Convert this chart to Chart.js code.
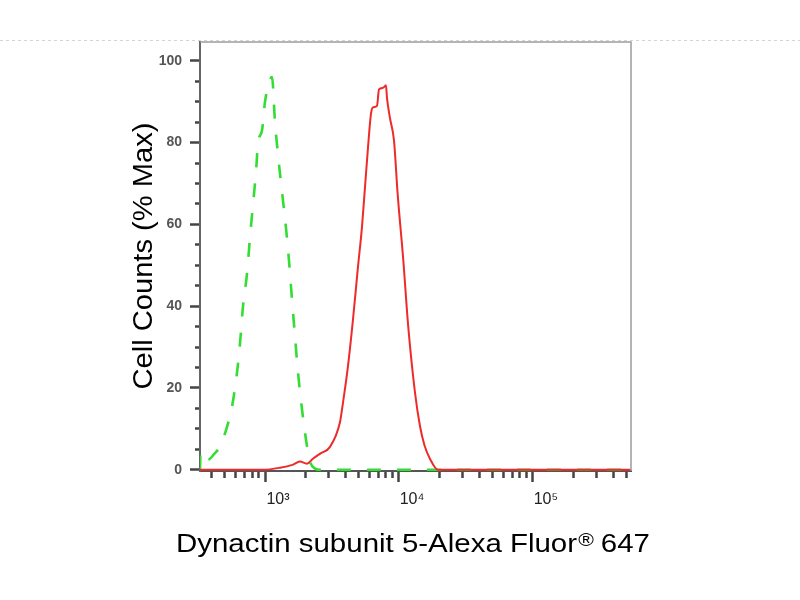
<!DOCTYPE html>
<html>
<head>
<meta charset="utf-8">
<title>Dynactin subunit 5 flow cytometry</title>
<script src="https://cdn.jsdelivr.net/npm/chart.js@4.4.1/dist/chart.umd.min.js"></script>
<style>
    html, body { margin: 0; padding: 0; background: #fff; }
    #wrap { width: 800px; height: 600px; }
</style>
</head>
<body>
<div id="wrap"><canvas id="histogram" width="800" height="600"></canvas></div>
<script>
// Stained sample (red, solid)
const stainedX = [327, 966, 1294, 1600, 1824, 2057, 2279, 2600, 3055, 3631, 3758, 4161, 4536, 4943, 5296, 5573, 5873,
    6180, 6397, 6854, 7096, 7603, 8000, 8135, 8570, 9183, 9770, 10770, 11730, 13160, 14350, 15500, 17030, 19550, 25000, 100000, 540000];
const stainedY = [0, 0, 0.5, 1.2, 2, 1.5, 2.7, 4, 5.6, 11.7, 14.8, 25.3, 36.7, 49.6, 59.4, 69, 78.8,
    87, 88.6, 89, 93, 93.4, 94, 91, 86, 80.5, 67.6, 51.3, 35, 19, 10.7, 6, 2.7, 0, 0, 0, 0];

// Isotype control (green, dashed)
const isotypeX = [327, 330, 340, 376, 416, 461, 515, 568, 618, 651, 685, 734, 773, 814, 857, 887, 950, 1000,
    1128, 1187, 1250, 1339, 1435, 1511, 1590, 1674, 1763, 1888, 2057, 2166, 2360, 2600, 5000, 20000, 100000, 540000];
const isotypeY = [0, 4.5, 4, 2.5, 3.8, 5.8, 10, 15.6, 23.8, 31, 40, 48, 57, 65, 73, 80, 83, 90,
    96, 85, 77, 68, 59, 51, 41.6, 32.6, 23.8, 14.8, 5.8, 2, 0.3, 0, 0, 0, 0, 0];

// Axis ticks
const xTickValues = [400, 500, 600, 700, 800, 900, 1000, 2000, 3000, 4000, 5000, 6000, 7000, 8000, 9000, 10000,
    20000, 30000, 40000, 50000, 60000, 70000, 80000, 90000, 100000, 200000, 300000, 400000, 500000];
const xMajorValues = [1000, 10000, 100000];
const xMajorLabels = ['10³', '10⁴', '10⁵'];
const yTickValues = [0, 5, 10, 15, 20, 25, 30, 35, 40, 45, 50, 55, 60, 65, 70, 75, 80, 85, 90, 95, 100];
const yLabelValues = [0, 20, 40, 60, 80, 100];
const yTickLabels = ['0', '20', '40', '60', '80', '100'];

const FONT = '"Liberation Sans", Arial, Helvetica, sans-serif';

function toPoints(xs, ys) {
    return xs.map((x, i) => ({ x: x, y: ys[i] }));
}

// dotted rule at the top, frame, and the two axis titles
const decorPlugin = {
    id: 'decor',
    beforeDraw(chart) {
        const ctx = chart.ctx;
        ctx.save();
        ctx.strokeStyle = '#d4d4d4';
        ctx.lineWidth = 1;
        ctx.setLineDash([3, 3]);
        ctx.beginPath();
        ctx.moveTo(0, 40.5);
        ctx.lineTo(800, 40.5);
        ctx.stroke();
        ctx.restore();
    },
    afterDraw(chart) {
        const ctx = chart.ctx;
        const area = chart.chartArea;

        ctx.save();
        ctx.strokeStyle = '#9c9c9c';
        ctx.lineWidth = 1.5;
        ctx.beginPath();
        ctx.moveTo(area.left, area.top);
        ctx.lineTo(area.right, area.top);
        ctx.lineTo(area.right, area.bottom);
        ctx.stroke();
        ctx.restore();

        // y title
        ctx.save();
        ctx.fillStyle = '#000';
        ctx.font = '27px ' + FONT;
        const yText = 'Cell Counts (% Max)';
        const yw = ctx.measureText(yText).width;
        ctx.translate(152, 256);
        ctx.rotate(-Math.PI / 2);
        ctx.scale(267 / yw, 1);
        ctx.textAlign = 'center';
        ctx.textBaseline = 'alphabetic';
        ctx.fillText(yText, 0, 0);
        ctx.restore();

        // x title with superscript ®
        ctx.save();
        ctx.fillStyle = '#000';
        ctx.textAlign = 'left';
        ctx.textBaseline = 'alphabetic';
        const part1 = 'Dynactin subunit 5-Alexa Fluor';
        const part3 = ' 647';
        ctx.font = '25px ' + FONT;
        const w1 = ctx.measureText(part1).width;
        const w3 = ctx.measureText(part3).width;
        ctx.font = '18px ' + FONT;
        const wR = ctx.measureText('®').width;
        const sx = 474 / (w1 + wR + w3);
        ctx.translate(176, 552);
        ctx.scale(sx, 1);
        ctx.font = '25px ' + FONT;
        ctx.fillText(part1, 0, 0);
        ctx.fillText(part3, w1 + wR, 0);
        ctx.font = '18px ' + FONT;
        ctx.fillText('®', w1 + 1, -6);
        ctx.restore();
    }
};

const ctx = document.getElementById('histogram').getContext('2d');
const histogram = new Chart(ctx, {
    type: 'line',
    data: {
        datasets: [{
            label: 'Dynactin subunit 5',
            data: toPoints(stainedX, stainedY),
            borderColor: '#ee2a2a',
            borderWidth: 2,
            pointRadius: 0,
            fill: false,
            cubicInterpolationMode: 'monotone'
        }, {
            label: 'Isotype control',
            data: toPoints(isotypeX, isotypeY),
            borderColor: '#33dd33',
            borderWidth: 2.6,
            borderDash: [14, 16],
            pointRadius: 0,
            fill: false,
            cubicInterpolationMode: 'monotone'
        }]
    },
    options: {
        responsive: false,
        animation: false,
        layout: { padding: { left: 0, right: 169, top: 42, bottom: 0 } },
        plugins: {
            legend: { display: false },
            tooltip: { enabled: false }
        },
        scales: {
            x: {
                type: 'logarithmic',
                min: 327,
                max: 540000,
                afterBuildTicks: scale => {
                    scale.ticks = xTickValues.map(v => ({ value: v, major: xMajorValues.includes(v) }));
                },
                afterFit: scale => { scale.height = 129; },
                border: { color: '#555', width: 2 },
                grid: {
                    drawOnChartArea: false,
                    tickLength: 11,
                    tickColor: '#444',
                    tickWidth: 2.5,
                    tickBorderDash: c => (c.tick && xMajorValues.includes(c.tick.value)) ? [] : [6, 100]
                },
                ticks: {
                    autoSkip: false,
                    maxRotation: 0,
                    padding: 8,
                    labelOffset: 13,
                    color: '#222',
                    font: { family: FONT, size: 16 },
                    callback: value => {
                        const i = xMajorValues.indexOf(value);
                        return i >= 0 ? xMajorLabels[i] : '';
                    }
                }
            },
            y: {
                type: 'linear',
                min: -0.3,
                max: 104.6,
                afterBuildTicks: scale => {
                    scale.ticks = yTickValues.map(v => ({ value: v }));
                },
                afterFit: scale => { scale.width = 200; },
                border: { color: '#666', width: 2 },
                grid: {
                    drawOnChartArea: false,
                    tickLength: 10,
                    tickColor: '#444',
                    tickWidth: 2.5,
                    tickBorderDash: c => (c.tick && yLabelValues.includes(c.tick.value)) ? [] : [5, 5],
                    tickBorderDashOffset: c => (c.tick && yLabelValues.includes(c.tick.value)) ? 0 : 5
                },
                ticks: {
                    autoSkip: false,
                    padding: 8,
                    color: '#555',
                    font: { family: FONT, size: 14, weight: 'bold' },
                    callback: value => {
                        const i = yLabelValues.indexOf(value);
                        return i >= 0 ? yTickLabels[i] : '';
                    }
                }
            }
        }
    },
    plugins: [decorPlugin]
});
</script>
</body>
</html>
